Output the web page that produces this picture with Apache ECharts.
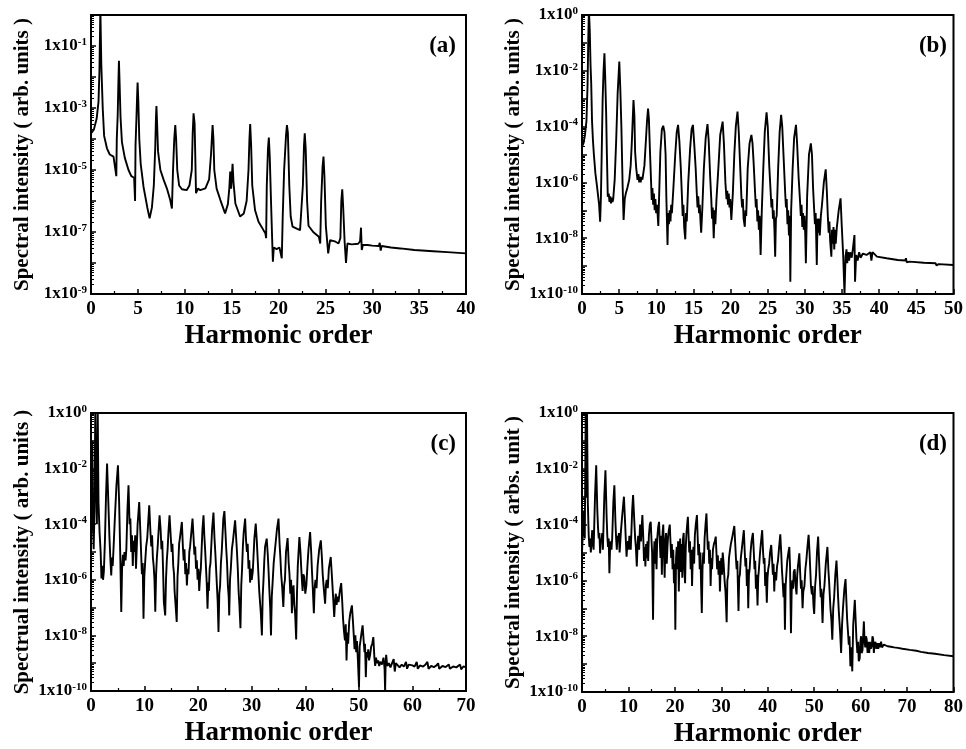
<!DOCTYPE html>
<html>
<head>
<meta charset="utf-8">
<script src="https://cdn.jsdelivr.net/npm/echarts@6/dist/echarts.min.js"></script>
<style>
  html, body { margin: 0; padding: 0; background: #fff; }
  #chart { width: 966px; height: 749px; }
</style>
</head>
<body>
<div id="chart"></div>
<script>
// harmonic spectra, values are log10 of the intensity
const specA = [
  [0, -3.82], [0.3, -3.7], [0.6, -3.35], [0.8, -2.8], [0.9, -1.8], [1.0, 0.2], [1.1, -1.6], [1.25, -3.0],
  [1.4, -3.9], [1.7, -4.3], [2.0, -4.5], [2.4, -4.57], [2.6, -4.6], [2.7, -5.2], [2.75, -4.0], [2.85, -3.2],
  [2.92, -2.2], [2.98, -1.48], [3.05, -2.2], [3.15, -3.3], [3.3, -4.1], [3.6, -4.6], [4.0, -5.0], [4.3, -5.2],
  [4.6, -5.25], [4.7, -6.0], [4.75, -4.2], [4.85, -3.3], [4.92, -2.6], [4.97, -2.18], [5.05, -2.8], [5.15, -4.0],
  [5.3, -4.8], [5.6, -5.54], [6.0, -6.2], [6.25, -6.56], [6.5, -6.2], [6.7, -5.5], [6.85, -4.3], [6.93, -3.3],
  [6.98, -2.94], [7.05, -3.5], [7.15, -4.4], [7.4, -5.0], [7.75, -5.32], [8.1, -5.6], [8.45, -5.97], [8.63, -6.24],
  [8.75, -5.0], [8.88, -4.0], [8.99, -3.55], [9.08, -4.0], [9.2, -5.0], [9.4, -5.5], [9.7, -5.62], [10.2, -5.65],
  [10.5, -5.5], [10.75, -5.0], [10.85, -3.8], [10.94, -3.17], [11.05, -3.5], [11.12, -4.5], [11.2, -5.75],
  [11.4, -5.6], [11.65, -5.65], [12.2, -5.59], [12.6, -5.3], [12.8, -4.5], [12.97, -3.55], [13.06, -4.0],
  [13.15, -5.0], [13.4, -5.6], [13.8, -5.97], [14.3, -6.4], [14.6, -6.1], [14.75, -5.6], [14.85, -5.05],
  [14.95, -5.6], [15.1, -4.8], [15.2, -5.4], [15.4, -6.08], [15.9, -6.5], [16.3, -6.4], [16.6, -6.0], [16.8, -5.0],
  [16.9, -4.0], [16.98, -3.52], [17.08, -4.2], [17.2, -5.5], [17.5, -6.3], [17.87, -6.67], [18.4, -6.94],
  [18.6, -7.04], [18.68, -7.2], [18.75, -5.5], [18.88, -4.3], [18.97, -3.95], [19.07, -4.6], [19.2, -6.0],
  [19.3, -7.0], [19.4, -7.96], [19.5, -7.5], [19.8, -7.55], [20.1, -7.5], [20.3, -7.55], [20.35, -7.85],
  [20.45, -6.5], [20.6, -5.0], [20.8, -3.9], [20.9, -3.55], [21.0, -3.8], [21.15, -5.5], [21.3, -6.5],
  [21.5, -6.83], [22.0, -6.9], [22.3, -6.94], [22.5, -6.9], [22.6, -5.5], [22.72, -4.2], [22.8, -3.82],
  [22.9, -4.3], [23.05, -6.0], [23.2, -6.8], [23.7, -7.0], [24.3, -7.15], [24.45, -7.37], [24.55, -6.0],
  [24.7, -4.9], [24.8, -4.57], [24.9, -5.2], [25.05, -6.8], [25.3, -7.69], [25.5, -7.26], [26.0, -7.3],
  [26.4, -7.37], [26.6, -7.2], [26.7, -6.0], [26.8, -5.62], [26.9, -6.2], [27.05, -7.3], [27.2, -8.0],
  [27.35, -7.37], [27.8, -7.4], [28.5, -7.38], [28.7, -7.3], [28.8, -6.86], [28.88, -7.58], [29.0, -7.42],
  [29.5, -7.42], [30.0, -7.44], [30.7, -7.45], [30.8, -7.35], [30.9, -7.6], [31.0, -7.45], [32.0, -7.5],
  [33.0, -7.53], [33.1, -7.47], [33.2, -7.55], [34.5, -7.58], [36.5, -7.62], [38.0, -7.65], [40.0, -7.69]
]

const specB = [
  [0, -4.72], [0.2, -4.6], [0.4, -4.3], [0.6, -3.8], [0.75, -2.5], [0.85, -0.8], [0.93, 0.2], [1.05, -0.6],
  [1.15, -1.8], [1.24, -2.45], [1.35, -3.8], [1.47, -4.48], [1.6, -5.0], [1.8, -5.67], [2.0, -6.1], [2.13, -6.39],
  [2.3, -6.8], [2.44, -7.41], [2.55, -6.5], [2.65, -5.0], [2.78, -3.0], [2.9, -2.0], [3.02, -1.37], [3.12, -2.2],
  [3.25, -3.5], [3.35, -5.0], [3.47, -6.51], [3.6, -6.4], [3.7, -6.7], [3.8, -6.5], [3.9, -6.75], [4.0, -6.55],
  [4.1, -6.7], [4.2, -6.6], [4.4, -5.9], [4.6, -4.5], [4.8, -2.8], [5.02, -1.67], [5.15, -2.6], [5.3, -4.0],
  [5.47, -6.15], [5.6, -7.35], [5.75, -6.6], [5.9, -6.39], [6.1, -6.2], [6.36, -5.9], [6.55, -5.4], [6.7, -4.6],
  [6.82, -3.8], [6.93, -3.05], [7.05, -3.6], [7.15, -4.9], [7.3, -5.5], [7.47, -5.91], [7.6, -5.7], [7.7, -6.0],
  [7.8, -5.8], [7.9, -6.0], [8.0, -5.8], [8.13, -5.9], [8.4, -5.4], [8.6, -4.5], [8.75, -3.8], [8.89, -3.35],
  [9.0, -3.7], [9.15, -4.9], [9.3, -6.0], [9.38, -6.63], [9.48, -6.2], [9.58, -6.8], [9.68, -6.4], [9.78, -7.0],
  [9.88, -6.6], [9.98, -7.1], [10.1, -6.8], [10.27, -7.56], [10.4, -6.3], [10.55, -4.9], [10.75, -4.1],
  [10.93, -3.97], [11.1, -4.2], [11.25, -5.0], [11.35, -6.5], [11.51, -8.24], [11.6, -7.1], [11.7, -7.5],
  [11.8, -7.0], [11.91, -7.4], [12.0, -6.8], [12.1, -7.1], [12.3, -6.2], [12.55, -5.0], [12.75, -4.2],
  [12.93, -3.94], [13.1, -4.5], [13.3, -5.5], [13.45, -6.5], [13.55, -7.2], [13.65, -6.8], [13.75, -7.6],
  [13.9, -8.04], [14.0, -7.1], [14.1, -7.4], [14.3, -6.0], [14.55, -4.8], [14.75, -4.1], [14.93, -3.94],
  [15.1, -4.6], [15.3, -5.5], [15.45, -6.4], [15.55, -6.9], [15.65, -6.5], [15.75, -7.1], [15.85, -6.8],
  [15.95, -7.4], [16.04, -7.8], [16.2, -6.9], [16.4, -5.5], [16.65, -4.4], [16.89, -3.91], [17.05, -4.5],
  [17.25, -5.8], [17.4, -6.6], [17.5, -7.3], [17.6, -6.9], [17.73, -8.0], [17.85, -7.0], [17.95, -7.5],
  [18.1, -6.6], [18.35, -5.5], [18.6, -4.3], [18.93, -3.82], [19.1, -4.6], [19.3, -6.0], [19.45, -6.6],
  [19.55, -6.3], [19.65, -6.8], [19.75, -6.4], [19.85, -6.9], [19.95, -6.6], [20.1, -7.35], [20.3, -6.4],
  [20.5, -5.0], [20.7, -4.0], [20.93, -3.46], [21.1, -4.2], [21.3, -5.5], [21.45, -6.5], [21.55, -6.9],
  [21.65, -6.6], [21.75, -7.3], [21.91, -7.59], [22.0, -7.0], [22.1, -7.2], [22.3, -5.5], [22.55, -4.6],
  [22.8, -4.3], [22.95, -4.6], [23.1, -5.3], [23.3, -6.4], [23.4, -6.9], [23.5, -6.6], [23.6, -7.4],
  [23.7, -7.0], [23.8, -7.7], [23.9, -7.2], [24.04, -8.6], [24.2, -7.0], [24.4, -5.5], [24.6, -4.2],
  [24.84, -3.49], [25.0, -4.0], [25.2, -5.4], [25.4, -6.4], [25.5, -6.9], [25.6, -6.6], [25.7, -7.3],
  [25.8, -7.0], [25.9, -7.7], [26.0, -8.66], [26.1, -7.3], [26.2, -7.2], [26.4, -5.5], [26.6, -4.2], [26.8, -3.58],
  [26.95, -4.0], [27.15, -5.2], [27.35, -6.4], [27.45, -6.9], [27.55, -6.6], [27.65, -7.5], [27.75, -7.0],
  [27.85, -7.9], [27.95, -7.2], [28.04, -9.56], [28.15, -7.0], [28.35, -5.5], [28.55, -4.4], [28.8, -3.94],
  [28.95, -4.6], [29.15, -5.8], [29.35, -6.7], [29.45, -7.2], [29.55, -6.8], [29.65, -7.6], [29.75, -7.1],
  [29.85, -7.7], [29.95, -7.2], [30.05, -7.9], [30.13, -8.9], [30.3, -6.5], [30.55, -5.0], [30.8, -4.6],
  [30.95, -5.0], [31.1, -6.2], [31.25, -7.0], [31.35, -7.5], [31.45, -7.1], [31.6, -8.96], [31.7, -7.3],
  [31.8, -7.8], [31.9, -7.3], [32.0, -7.9], [32.15, -7.2], [32.3, -6.8], [32.55, -6.0], [32.8, -5.53],
  [32.95, -6.3], [33.1, -7.3], [33.2, -7.8], [33.3, -7.4], [33.4, -8.1], [33.56, -8.66], [33.65, -7.7],
  [33.75, -8.2], [33.85, -7.6], [33.95, -8.4], [34.05, -7.7], [34.15, -8.2], [34.3, -7.6], [34.55, -7.0],
  [34.8, -6.57], [34.95, -7.5], [35.15, -8.6], [35.33, -10.0], [35.47, -8.66], [35.6, -8.4], [35.7, -8.9],
  [35.8, -8.5], [35.95, -8.8], [36.1, -8.5], [36.3, -8.7], [36.45, -8.4], [36.67, -7.89], [36.75, -9.56],
  [36.9, -8.6], [37.1, -8.8], [37.3, -8.5], [37.5, -8.7], [37.8, -8.55], [38.3, -8.6], [38.8, -8.5],
  [38.95, -8.8], [39.1, -8.5], [39.7, -8.66], [41, -8.72], [42.5, -8.78], [43.5, -8.8], [43.6, -8.72],
  [43.7, -8.86], [44.1, -8.84], [46, -8.88], [47.6, -8.9], [47.7, -8.98], [48, -8.93], [50, -8.96]
]

const specC = [
  [0, -4.58], [0.15, -3.4], [0.25, -1.0], [0.35, -3.8], [0.5, -4.9], [0.65, -3.5], [0.8, 0.2], [0.95, -2.5],
  [1.1, -4.0], [1.25, 0.2], [1.4, -3.2], [1.6, -4.3], [1.8, -5.0], [1.95, -5.95], [2.1, -5.5], [2.25, -6.0],
  [2.4, -5.7], [2.6, -4.6], [2.8, -3.0], [3.0, -1.82], [3.2, -3.0], [3.45, -4.5], [3.6, -5.2], [3.78, -5.84],
  [3.9, -5.2], [4.05, -5.5], [4.2, -4.9], [4.45, -3.8], [4.75, -2.6], [5.03, -1.88], [5.25, -3.2], [5.45, -5.0],
  [5.65, -7.16], [5.8, -5.6], [5.95, -5.1], [6.1, -5.5], [6.25, -5.0], [6.45, -5.3], [6.6, -4.9], [6.8, -3.5],
  [7.0, -2.6], [7.2, -4.0], [7.35, -3.8], [7.5, -5.0], [7.65, -4.4], [7.8, -5.5], [7.95, -4.6], [8.1, -5.0],
  [8.25, -4.4], [8.4, -5.6], [8.7, -4.0], [9.0, -3.2], [9.2, -4.2], [9.35, -5.0], [9.5, -5.8], [9.65, -5.4],
  [9.8, -7.4], [9.95, -5.9], [10.1, -5.4], [10.3, -4.8], [10.5, -4.5], [10.87, -3.32], [11.1, -4.3],
  [11.25, -4.8], [11.4, -4.4], [11.55, -5.2], [11.7, -5.5], [11.85, -6.0], [12.0, -7.15], [12.15, -5.8],
  [12.3, -5.2], [12.45, -4.8], [12.6, -4.3], [12.8, -3.68], [13.0, -4.2], [13.15, -4.9], [13.3, -4.6],
  [13.45, -5.6], [13.6, -6.8], [13.85, -7.28], [14.0, -6.0], [14.15, -5.3], [14.3, -4.9], [14.45, -4.3],
  [14.66, -3.68], [14.9, -4.5], [15.05, -5.0], [15.2, -4.7], [15.35, -5.5], [15.5, -5.8], [15.6, -6.4],
  [15.75, -6.8], [16.0, -7.52], [16.15, -5.9], [16.3, -5.4], [16.45, -4.7], [16.6, -4.5], [16.96, -3.92],
  [17.15, -4.8], [17.3, -5.3], [17.45, -4.9], [17.6, -5.8], [17.75, -5.4], [17.9, -6.2], [18.05, -5.6],
  [18.2, -5.8], [18.35, -5.0], [18.5, -4.8], [18.95, -3.8], [19.15, -4.5], [19.3, -5.1], [19.45, -4.8],
  [19.6, -5.6], [19.75, -5.3], [19.9, -6.0], [20.05, -5.6], [20.2, -6.4], [20.35, -5.9], [20.5, -5.6],
  [20.8, -4.2], [21.0, -3.68], [21.15, -4.4], [21.3, -4.9], [21.45, -5.5], [21.6, -6.1], [21.75, -7.04],
  [21.9, -6.1], [22.0, -6.4], [22.15, -5.6], [22.3, -5.4], [22.6, -4.2], [22.86, -3.58], [23.05, -4.5],
  [23.2, -5.0], [23.35, -5.6], [23.5, -6.2], [23.65, -6.8], [23.8, -7.88], [23.95, -6.5], [24.1, -6.2],
  [24.25, -5.4], [24.4, -5.0], [24.7, -3.8], [24.9, -3.53], [25.1, -4.3], [25.25, -4.9], [25.4, -5.4],
  [25.55, -6.2], [25.7, -6.6], [25.8, -7.28], [25.95, -6.0], [26.1, -5.6], [26.3, -4.9], [26.5, -4.6],
  [26.9, -3.86], [27.1, -4.5], [27.25, -5.0], [27.4, -5.6], [27.55, -6.4], [27.7, -6.9], [27.9, -7.74],
  [28.05, -6.2], [28.2, -5.6], [28.35, -4.8], [28.5, -4.3], [28.77, -3.8], [28.95, -4.6], [29.1, -5.0],
  [29.25, -4.7], [29.4, -5.6], [29.55, -5.3], [29.7, -6.1], [29.85, -5.6], [30.0, -6.0], [30.2, -5.7],
  [30.5, -4.5], [30.75, -3.98], [30.95, -4.6], [31.1, -5.2], [31.25, -5.8], [31.4, -6.4], [31.55, -6.8],
  [31.7, -7.2], [31.9, -8.0], [32.05, -6.6], [32.2, -6.0], [32.35, -5.3], [32.5, -4.8], [32.8, -4.52],
  [33.0, -5.1], [33.15, -5.7], [33.3, -6.4], [33.45, -7.0], [33.6, -8.0], [33.75, -6.6], [33.9, -6.1],
  [34.1, -5.4], [34.3, -5.0], [34.7, -4.2], [35.0, -3.8], [35.2, -4.7], [35.35, -5.2], [35.5, -5.8],
  [35.7, -6.3], [35.9, -6.98], [36.05, -6.2], [36.2, -6.0], [36.4, -5.0], [36.7, -4.5], [36.9, -5.4],
  [37.05, -5.8], [37.2, -6.5], [37.35, -6.0], [37.5, -7.2], [37.65, -6.4], [37.8, -6.2], [37.95, -6.9],
  [38.1, -7.2], [38.3, -8.15], [38.45, -6.5], [38.6, -5.5], [38.9, -4.46], [39.1, -5.0], [39.25, -5.6],
  [39.4, -6.1], [39.5, -6.4], [39.65, -5.8], [39.8, -5.9], [40.0, -6.5], [40.2, -6.2], [40.4, -5.5],
  [40.6, -4.9], [40.9, -4.28], [41.1, -5.0], [41.25, -5.7], [41.4, -6.3], [41.6, -7.2], [41.75, -6.3],
  [41.9, -6.0], [42.1, -6.3], [42.3, -5.5], [42.6, -4.9], [42.9, -4.58], [43.1, -5.2], [43.25, -5.8],
  [43.45, -6.3], [43.7, -6.86], [43.85, -6.2], [44.0, -6.0], [44.2, -6.3], [44.4, -5.6], [44.75, -5.18],
  [44.95, -5.8], [45.1, -6.3], [45.25, -6.8], [45.4, -7.34], [45.55, -6.8], [45.7, -6.5], [45.85, -6.9],
  [46.0, -6.6], [46.2, -6.8], [46.45, -6.4], [46.7, -6.12], [46.9, -6.8], [47.05, -7.4], [47.2, -7.8],
  [47.4, -8.18], [47.55, -7.6], [47.7, -8.9], [47.85, -7.9], [48.0, -8.3], [48.2, -7.5], [48.4, -7.2],
  [48.7, -6.92], [48.9, -7.5], [49.05, -8.0], [49.2, -8.5], [49.35, -8.0], [49.5, -8.6], [49.65, -8.2],
  [49.8, -8.8], [50.03, -9.86], [50.15, -8.4], [50.3, -8.2], [50.5, -7.9], [50.7, -7.64], [50.9, -8.2],
  [51.05, -8.6], [51.15, -8.3], [51.3, -9.5], [51.45, -8.6], [51.6, -8.8], [51.75, -8.5], [51.9, -8.9],
  [52.1, -8.7], [52.3, -8.4], [52.5, -8.3], [52.7, -8.06], [52.9, -8.8], [53.05, -9.1], [53.2, -8.8],
  [53.4, -9.0], [53.6, -8.9], [53.8, -9.1], [54.0, -8.95], [54.3, -9.05], [54.6, -8.8], [54.8, -9.2],
  [54.9, -10.0], [55.0, -9.0], [55.1, -8.7], [55.3, -9.1], [55.6, -9.0], [55.9, -9.15], [56.2, -9.0],
  [56.5, -8.85], [56.7, -9.3], [56.9, -9.0], [57.2, -9.05], [57.6, -9.15], [58.0, -9.05], [58.4, -9.12],
  [58.8, -8.95], [59.0, -9.2], [59.3, -9.05], [59.6, -9.12], [60.0, -9.08], [60.4, -9.12], [60.8, -8.95],
  [61.0, -9.2], [61.4, -9.08], [62.0, -9.12], [62.4, -9.06], [62.8, -8.95], [63.0, -9.2], [63.5, -9.1],
  [64.0, -9.14], [64.5, -9.08], [64.8, -9.0], [65.0, -9.2], [65.6, -9.1], [66.2, -9.14], [66.8, -9.05],
  [67.0, -9.2], [67.6, -9.12], [68.2, -9.15], [68.9, -9.05], [69.1, -9.22], [69.5, -9.12], [70.0, -9.14]
]

const specD = [
  [0, -5.0], [0.2, -4.2], [0.4, -3.5], [0.6, -4.5], [0.8, 0.2], [0.95, -3.0], [1.07, 0.2], [1.25, -3.2],
  [1.45, -4.4], [1.6, -4.8], [1.75, -4.5], [1.9, -5.0], [2.05, -4.6], [2.2, -4.2], [2.35, -4.7], [2.5, -4.9],
  [2.8, -3.0], [3.06, -1.87], [3.3, -3.5], [3.45, -4.1], [3.6, -4.5], [3.75, -4.3], [3.9, -5.03], [4.05, -4.5],
  [4.2, -4.6], [4.35, -4.3], [4.5, -4.9], [4.8, -3.0], [5.05, -2.05], [5.3, -3.7], [5.45, -4.4], [5.6, -4.8],
  [5.75, -4.5], [5.9, -5.74], [6.05, -4.8], [6.2, -4.6], [6.35, -4.9], [6.5, -4.5], [6.75, -3.2], [6.97, -2.59],
  [7.2, -3.9], [7.35, -4.5], [7.5, -4.9], [7.65, -4.4], [7.8, -4.6], [7.95, -4.3], [8.1, -5.0], [8.25, -4.6],
  [8.4, -4.2], [8.7, -3.6], [9.03, -3.0], [9.3, -4.0], [9.45, -4.6], [9.6, -5.15], [9.75, -4.7], [9.9, -4.6],
  [10.05, -4.9], [10.2, -4.4], [10.5, -4.9], [10.8, -3.5], [11.0, -2.94], [11.3, -4.0], [11.45, -4.5],
  [11.6, -4.8], [11.8, -5.5], [11.95, -4.8], [12.1, -4.4], [12.3, -4.9], [12.5, -4.0], [12.7, -4.6],
  [13.0, -3.66], [13.2, -4.5], [13.35, -5.3], [13.5, -4.8], [13.65, -5.5], [13.8, -4.7], [13.95, -5.2],
  [14.1, -4.6], [14.25, -5.3], [14.4, -4.4], [14.6, -4.0], [14.8, -3.9], [14.95, -4.5], [15.1, -5.0],
  [15.3, -7.41], [15.45, -5.2], [15.6, -4.6], [15.75, -5.4], [15.9, -4.5], [16.05, -5.6], [16.2, -4.5],
  [16.4, -4.1], [16.6, -3.9], [16.75, -4.6], [16.9, -5.2], [17.05, -4.4], [17.2, -5.8], [17.35, -4.3],
  [17.5, -4.0], [17.65, -5.0], [17.8, -5.9], [17.95, -4.6], [18.1, -4.3], [18.25, -5.4], [18.4, -4.8],
  [18.55, -4.4], [18.7, -4.2], [18.9, -4.0], [19.05, -4.6], [19.2, -5.2], [19.35, -4.7], [19.5, -5.6],
  [19.65, -4.9], [19.8, -6.1], [19.95, -5.4], [20.1, -7.77], [20.25, -5.2], [20.4, -4.8], [20.55, -5.6],
  [20.7, -4.6], [20.85, -6.4], [21.0, -4.9], [21.15, -4.5], [21.3, -5.7], [21.45, -4.7], [21.6, -5.9],
  [21.75, -4.5], [21.9, -4.3], [22.05, -5.6], [22.2, -6.1], [22.35, -4.8], [22.5, -4.3], [22.65, -4.0],
  [22.8, -3.72], [22.95, -4.4], [23.1, -5.0], [23.25, -4.6], [23.4, -5.6], [23.55, -4.9], [23.7, -6.2],
  [23.85, -5.2], [24.0, -4.8], [24.15, -5.4], [24.3, -4.4], [24.5, -4.0], [24.75, -3.66], [24.9, -4.4],
  [25.05, -5.1], [25.2, -4.7], [25.35, -5.6], [25.5, -5.0], [25.65, -6.2], [25.8, -7.17], [25.95, -5.6],
  [26.1, -5.0], [26.25, -5.4], [26.4, -4.5], [26.6, -4.0], [26.8, -3.6], [26.95, -4.3], [27.1, -4.9],
  [27.25, -4.6], [27.4, -5.4], [27.55, -4.9], [27.7, -6.2], [27.85, -5.2], [28.0, -5.6], [28.2, -4.9],
  [28.4, -4.7], [28.6, -4.6], [28.8, -4.43], [28.95, -5.0], [29.1, -5.6], [29.25, -5.1], [29.4, -5.8],
  [29.55, -5.3], [29.7, -6.4], [29.85, -5.6], [30.0, -5.2], [30.15, -5.8], [30.3, -5.0], [30.5, -5.4],
  [30.7, -6.0], [30.9, -6.4], [31.15, -7.5], [31.3, -6.0], [31.5, -5.8], [31.65, -5.2], [31.8, -5.0],
  [32.05, -4.7], [32.3, -4.5], [32.8, -4.05], [33.0, -4.7], [33.15, -5.2], [33.3, -5.6], [33.45, -5.3],
  [33.6, -6.4], [33.7, -7.1], [33.85, -5.9], [34.0, -5.8], [34.2, -5.2], [34.4, -4.9], [34.85, -4.2],
  [35.05, -5.0], [35.2, -5.5], [35.35, -5.2], [35.5, -6.2], [35.65, -5.6], [35.8, -7.0], [35.95, -5.8],
  [36.1, -5.6], [36.3, -5.0], [36.5, -4.6], [36.8, -4.3], [37.0, -5.0], [37.15, -5.6], [37.3, -5.3],
  [37.45, -6.3], [37.6, -5.8], [37.8, -6.9], [37.95, -5.9], [38.1, -5.6], [38.3, -5.1], [38.5, -4.7],
  [38.8, -4.2], [39.0, -5.0], [39.15, -5.4], [39.3, -5.2], [39.45, -6.2], [39.6, -5.7], [39.8, -6.8],
  [39.95, -5.9], [40.1, -5.6], [40.3, -5.4], [40.5, -5.0], [40.75, -4.73], [40.95, -5.3], [41.1, -5.8],
  [41.25, -5.4], [41.4, -6.4], [41.55, -5.7], [41.8, -6.0], [42.0, -5.5], [42.2, -5.3], [42.45, -4.8],
  [42.7, -4.35], [42.9, -5.0], [43.05, -5.6], [43.2, -6.0], [43.4, -6.6], [43.55, -6.1], [43.7, -7.77],
  [43.85, -6.2], [44.0, -5.8], [44.2, -5.3], [44.45, -5.0], [44.65, -4.8], [44.8, -5.5], [45.0, -7.89],
  [45.15, -6.4], [45.3, -6.0], [45.45, -6.3], [45.6, -5.7], [45.8, -5.6], [46.0, -6.2], [46.2, -6.5],
  [46.35, -5.8], [46.5, -5.5], [46.8, -5.03], [47.0, -5.8], [47.15, -6.3], [47.3, -6.0], [47.5, -7.0],
  [47.65, -6.4], [47.9, -6.2], [48.1, -5.6], [48.3, -5.3], [48.55, -4.8], [48.8, -4.37], [49.0, -5.0],
  [49.15, -5.6], [49.3, -6.2], [49.5, -6.5], [49.65, -6.2], [49.85, -6.9], [50.0, -7.2], [50.2, -6.2],
  [50.4, -5.8], [50.6, -5.0], [50.85, -4.43], [51.05, -5.3], [51.2, -5.9], [51.4, -6.6], [51.55, -6.3],
  [51.8, -7.53], [52.0, -6.5], [52.2, -6.2], [52.5, -5.4], [52.85, -4.8], [53.05, -5.6], [53.2, -6.0],
  [53.35, -6.5], [53.5, -7.0], [53.7, -7.4], [53.9, -8.13], [54.1, -7.0], [54.3, -6.6], [54.55, -5.8],
  [54.8, -5.29], [55.0, -6.0], [55.15, -6.6], [55.3, -7.1], [55.45, -7.5], [55.6, -7.9], [55.8, -8.6],
  [56.0, -7.6], [56.2, -7.0], [56.5, -6.3], [56.75, -5.95], [56.95, -6.8], [57.1, -7.4], [57.3, -7.9],
  [57.45, -8.3], [57.6, -8.0], [57.8, -9.08], [58.0, -8.4], [58.2, -9.26], [58.4, -7.6], [58.75, -6.7],
  [58.95, -7.5], [59.1, -8.1], [59.3, -8.6], [59.45, -8.2], [59.6, -8.9], [59.8, -8.8], [59.95, -8.2],
  [60.1, -8.0], [60.25, -8.6], [60.4, -8.5], [60.55, -8.0], [60.7, -7.47], [60.85, -8.2], [61.0, -8.4],
  [61.15, -8.0], [61.3, -8.1], [61.5, -8.6], [61.7, -8.2], [61.85, -8.6], [62.0, -8.2], [62.2, -8.45],
  [62.4, -8.35], [62.55, -8.0], [62.7, -8.1], [62.85, -8.6], [63.0, -8.3], [63.2, -8.2], [63.4, -8.45],
  [63.6, -8.25], [63.8, -8.45], [64.0, -8.25], [64.2, -8.4], [64.4, -8.2], [64.6, -8.4], [65.0, -8.3],
  [65.8, -8.36], [66.5, -8.38], [67.2, -8.4], [68.0, -8.42], [69.0, -8.45], [70.6, -8.49], [72.0, -8.52],
  [73.0, -8.56], [74.5, -8.6], [76.0, -8.63], [78.0, -8.68], [80.0, -8.72]
]

const spectra = [specA, specB, specC, specD]
const panelLabels = ['(a)', '(b)', '(c)', '(d)']
const yNames = [
  'Spectral intensity ( arb. units )',
  'Spectral intensity ( arb. units )',
  'Spectrual intensity ( arb. units )',
  'Spectral intensity ( arbs. unit )'
]
const xName = 'Harmonic order'
const xMax = [40, 50, 70, 80]
const xStep = [5, 5, 10, 10]
const yMinExp = [-9, -10, -10, -10]

const FONT = 'Liberation Serif'
const grids = [
  { left: 91, top: 15, width: 375, height: 279 },
  { left: 582, top: 15, width: 375, height: 279 },
  { left: 91, top: 413, width: 375, height: 278 },
  { left: 582, top: 413, width: 375, height: 279 }
]

function yLabel(minExp) {
  return value => {
    const e = Math.round(Math.log10(value))
    if ((e - minExp) % 2 !== 0) return ''
    return '{b|1x10}{s|' + e + '}'
  }
}

const option = {
  animation: false,
  title: panelLabels.map((t, i) => ({
    text: t,
    right: 966 - grids[i].left - grids[i].width + 10,
    top: grids[i].top + 20,
    padding: 0,
    textStyle: { fontFamily: FONT, fontWeight: 'bold', fontSize: 23, color: '#000' }
  })),
  grid: grids.map(g => ({
    ...g,
    show: true,
    borderColor: '#000',
    borderWidth: 2,
    containLabel: false
  })),
  xAxis: spectra.map((s, i) => ({
    type: 'value',
    gridIndex: i,
    min: 0,
    max: xMax[i],
    interval: xStep[i],
    name: xName,
    nameLocation: 'middle',
    nameGap: 29,
    nameTextStyle: { fontFamily: FONT, fontWeight: 'bold', fontSize: 27, color: '#000' },
    axisLine: { lineStyle: { color: '#000', width: 2 } },
    axisTick: { inside: true, length: 5, lineStyle: { color: '#000', width: 1.5 } },
    minorTick: { show: true, splitNumber: 2, length: 3, lineStyle: { color: '#000', width: 1.2 } },
    axisLabel: { fontFamily: FONT, fontWeight: 'bold', fontSize: 19, color: '#000', margin: 6 },
    splitLine: { show: false }
  })),
  yAxis: spectra.map((s, i) => ({
    type: 'log',
    logBase: 10,
    gridIndex: i,
    min: Math.pow(10, yMinExp[i]),
    max: 1,
    interval: 1,
    name: yNames[i],
    nameLocation: 'middle',
    nameGap: 58,
    nameTextStyle: { fontFamily: FONT, fontWeight: 'bold', fontSize: 21, color: '#000' },
    axisLine: { show: true, lineStyle: { color: '#000', width: 2 } },
    axisTick: { inside: true, length: 5, lineStyle: { color: '#000', width: 1.5 } },
    minorTick: { show: true, splitNumber: 9, length: 3, lineStyle: { color: '#000', width: 1 } },
    axisLabel: {
      margin: 4,
      formatter: yLabel(yMinExp[i]),
      rich: {
        b: { fontFamily: FONT, fontWeight: 'bold', fontSize: 17, color: '#000', lineHeight: 19 },
        s: { fontFamily: FONT, fontWeight: 'bold', fontSize: 11, color: '#000', verticalAlign: 'top', lineHeight: 11 }
      }
    },
    splitLine: { show: false }
  })),
  series: spectra.map((s, i) => ({
    type: 'line',
    xAxisIndex: i,
    yAxisIndex: i,
    symbol: 'none',
    clip: true,
    lineStyle: { color: '#000', width: 1.9 },
    data: s.map(([h, e]) => [h, Math.pow(10, e)])
  }))
}

const chart = echarts.init(document.getElementById('chart'), null, { renderer: 'canvas' })
chart.setOption(option)
</script>
</body>
</html>
